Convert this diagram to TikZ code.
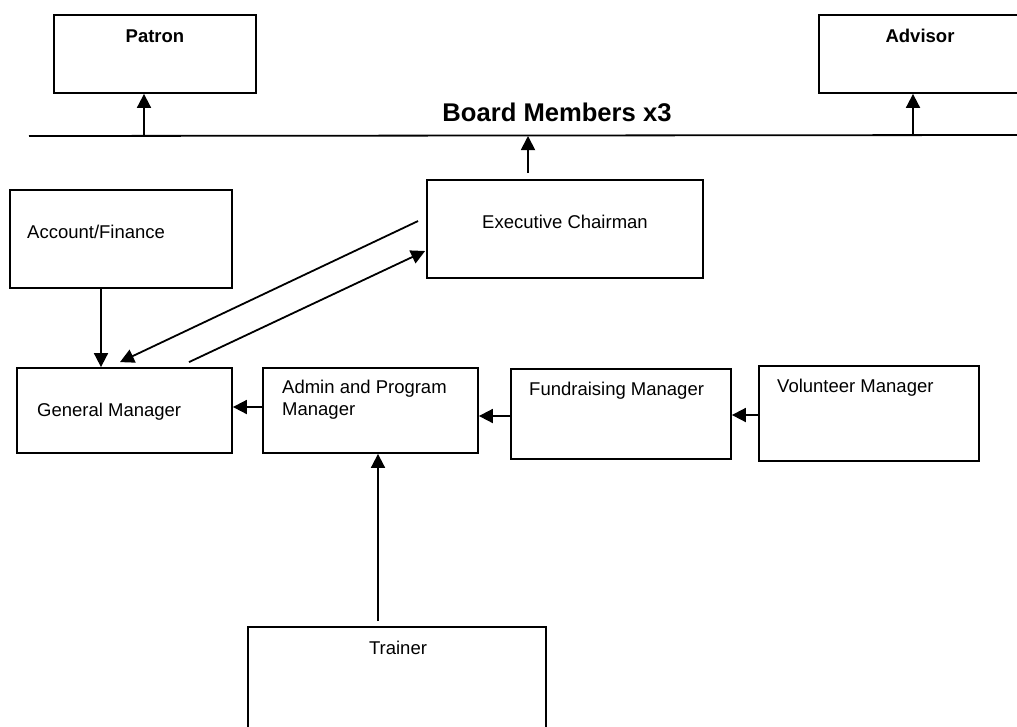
\documentclass[tikz,border=0pt]{standalone}
\usepackage{fontspec}
\setmainfont{Liberation Sans}
\usetikzlibrary{arrows.meta}

\begin{document}
\begin{tikzpicture}[x=1pt,y=-1pt,
box/.style={draw, rectangle, inner sep=0pt, line width=1.8pt},
txt/.style={inner sep=0pt, align=left, font=\fontsize{18.5}{22}\selectfont},
bold/.style={inner sep=0pt, font=\fontsize{18.5}{22}\selectfont\bfseries},
arr/.style={-{Triangle[length=14pt,width=14pt]}, line width=1.8pt}]
\path[use as bounding box, clip] (0,0) rectangle (1017,726);
\fill[white] (0,0) rectangle (1017,726);

% boxes
\node[box, minimum width=202pt, minimum height=78pt] (patron) at (155,54) {};
\node[box, minimum width=222pt, minimum height=78pt] (advisor) at (930,54) {};
\node[box, minimum width=276pt, minimum height=98pt] (exec) at (565,229) {};
\node[box, minimum width=222pt, minimum height=98pt] (account) at (121,239) {};
\node[box, minimum width=215pt, minimum height=85pt] (gm) at (124.5,410.5) {};
\node[box, minimum width=215pt, minimum height=85pt] (admin) at (370.5,410.5) {};
\node[box, minimum width=220pt, minimum height=90pt] (fund) at (621,414) {};
\node[box, minimum width=220pt, minimum height=95pt] (vol) at (869,413.5) {};
\node[box, minimum width=298pt, minimum height=113pt] (trainer) at (397,683.5) {};

% texts
\node[bold] (patron-text) at (155,36) {Patron};
\node[bold] (advisor-text) at (920,36) {Advisor};
\node[inner sep=0pt, font=\fontsize{25.6}{30}\selectfont\bfseries] (board) at (557,112) {Board Members x3};
\node[txt] (exec-text) at (565,222) {Executive Chairman};
\node[txt, anchor=west] (account-text) at (27,232) {Account/Finance};
\node[txt, anchor=west] (gm-text) at (37,412) {General Manager};
\node[txt, anchor=west] (admin-text) at (282,400) {Admin and Program\\Manager};
\node[txt, anchor=west] (fund-text) at (529,391) {Fundraising Manager};
\node[txt, anchor=west] (vol-text) at (777,388) {Volunteer Manager};
\node[txt] (trainer-text) at (398,648) {Trainer};

% board line
\coordinate (bl) at (29,136);
\coordinate (br) at (1017,135);
\draw[line width=1.8pt] (bl) -- (br);

% connectors
\draw[arr] ([xshift=-11pt]patron.south |- bl) -- ([xshift=-11pt]patron.south);
\draw[arr] ([xshift=-17pt]advisor.south |- br) -- ([xshift=-17pt]advisor.south);
\draw[arr] ([xshift=-37pt,yshift=6pt]exec.north) -- ([xshift=-37pt]exec.north |- bl);
\draw[arr] ([xshift=-20pt]account.south) -- ([xshift=-20pt]account.south |- gm.north);
\draw[arr] ([xshift=-8pt,yshift=8pt]exec.west) -- ([xshift=-4.5pt,yshift=5pt]gm.north);
\draw[arr] ([xshift=64.5pt,yshift=5pt]gm.north) -- ([xshift=-1pt,yshift=-22pt]exec.west);
\draw[arr] ([yshift=3.5pt]admin.west) -- ([yshift=3.5pt]admin.west -| gm.east);
\draw[arr] ([yshift=-2pt]fund.west) -- ([yshift=-2pt]fund.west -| admin.east);
\draw[arr] ([yshift=-1.5pt]vol.west) -- ([yshift=-1.5pt]vol.west -| fund.east);
\draw[arr] ([xshift=-19pt,yshift=5pt]trainer.north) -- ([xshift=-19pt]trainer.north |- admin.south);
\end{tikzpicture}
\end{document}
